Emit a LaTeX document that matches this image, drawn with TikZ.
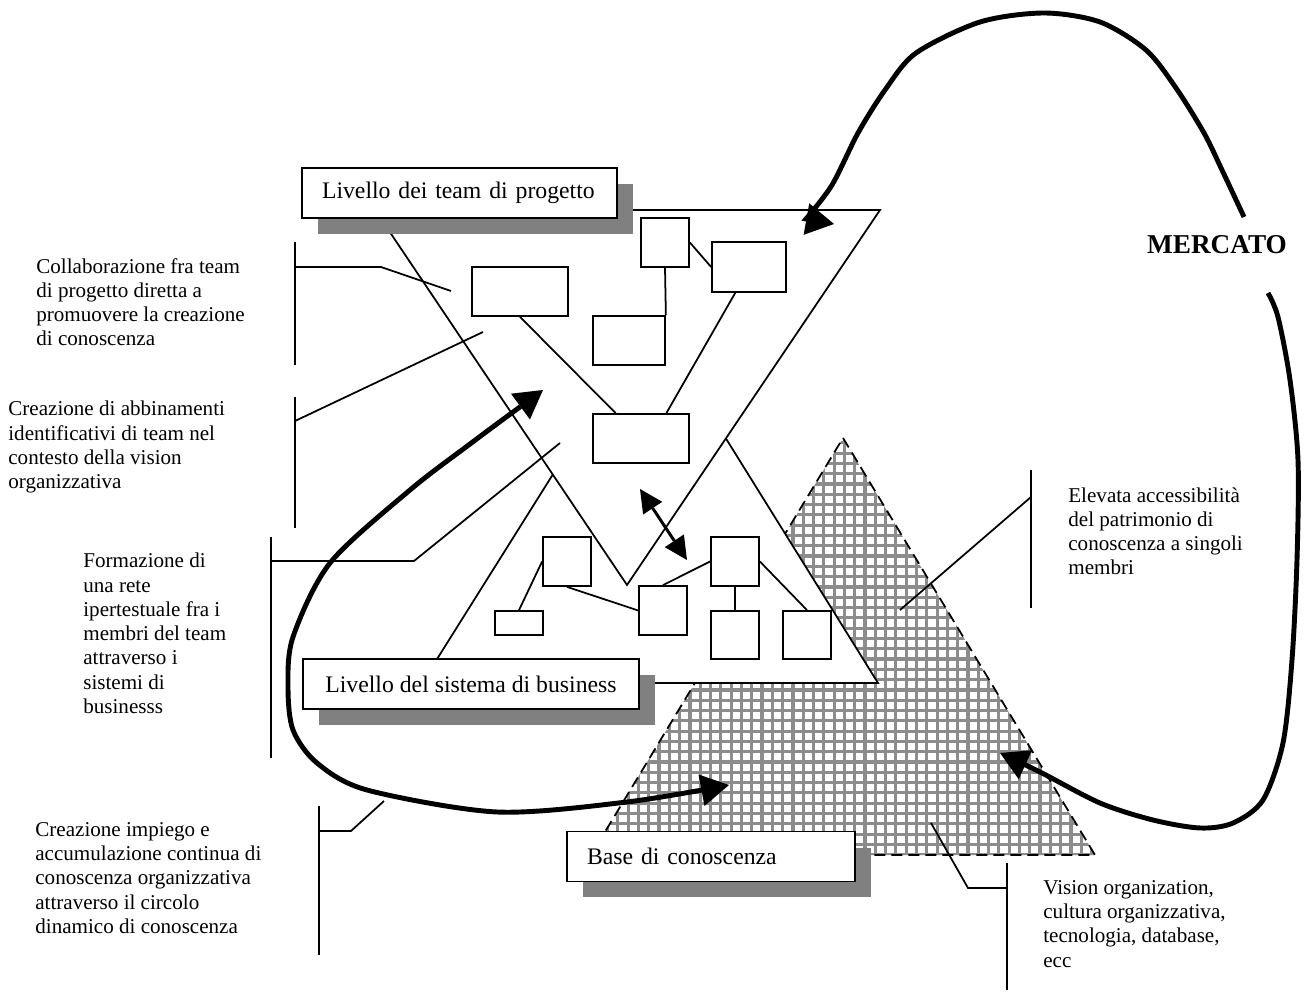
\documentclass[tikz,border=0pt]{standalone}
\usepackage{fontspec}
\setmainfont{Liberation Serif}
\usepackage{tikz}
\usetikzlibrary{arrows.meta, shadows}
\definecolor{ShadowGrey}{rgb}{0.5, 0.5, 0.5}
\definecolor{HatchGrey}{rgb}{0.55, 0.55, 0.55}
\tikzstyle{levelbox} = [rectangle, draw=black, line width=1pt, fill=white, inner xsep=0.4cm, inner ysep=0pt, minimum height=1cm, align=left, font=\fontsize{13.5pt}{15pt}\selectfont, drop shadow={shadow xshift=0.32cm, shadow yshift=-0.32cm, fill=ShadowGrey, opacity=1}]
\tikzstyle{teambox} = [rectangle, draw=black, line width=1pt, fill=white, inner sep=0pt]
\tikzstyle{layer} = [draw=black, line width=1pt, fill=white]
\tikzstyle{leader} = [line width=1pt]
\tikzstyle{notetext} = [anchor=north west, inner sep=0pt, align=left]
\tikzstyle{bigline} = [line width=2.8pt]
\tikzstyle{bigarrow} = [bigline, {Triangle[length=0.56cm, width=0.64cm, line width=0pt]}-{Triangle[length=0.56cm, width=0.64cm, line width=0pt]}]
\tikzstyle{bighead} = [bigline, -{Triangle[length=0.56cm, width=0.64cm, line width=0pt]}]
\tikzstyle{midarrow} = [line width=1.7pt, {Triangle[length=0.46cm, width=0.46cm, line width=0pt]}-{Triangle[length=0.46cm, width=0.46cm, line width=0pt]}]
\tikzset{boxdim/.style 2 args={minimum width=#1, minimum height=#2}}

\begin{document}
\begin{tikzpicture}[x=0.02cm, y=-0.02cm, every node/.style={font=\fontsize{12pt}{13.8pt}\selectfont}]
  \useasboundingbox (0,0) rectangle (1309,996);

  \coordinate (kbTop) at (843,438);
  \coordinate (kbRight) at (1095,855);
  \coordinate (kbLeft) at (591,855);
  \begin{scope}
    \clip (kbTop) -- (kbRight) -- (kbLeft) -- cycle;
    \fill[white] (kbTop) -- (kbRight) -- (kbLeft) -- cycle;
    \draw[HatchGrey, line width=1.8pt, step=0.206cm] (580,860) grid (1100,430);
  \end{scope}
  \draw[line width=1pt, dash pattern=on 0.22cm off 0.12cm] (kbTop) -- (kbRight) -- (kbLeft) -- cycle;

  \coordinate (busLeft) at (422,683);
  \coordinate (busTop) at (651,318);
  \coordinate (busRight) at (878,683);
  \draw[layer] (busLeft) -- (busTop) -- (busRight) -- cycle;
  \coordinate (teamLeft) at (375,210);
  \coordinate (teamRight) at (880,210);
  \coordinate (teamBottom) at (627,585);
  \draw[layer] (teamLeft) -- (teamRight) -- (teamBottom) -- cycle;

  \coordinate (collabTop) at (295,242);
  \coordinate (collabBot) at (295,365);
  \coordinate (collabFoot) at (295,267);
  \coordinate (collabKnee) at (381,267);
  \coordinate (collabEnd) at (451,291);
  \coordinate (abbinTop) at (295,397);
  \coordinate (abbinBot) at (295,528);
  \coordinate (abbinFoot) at (295,421);
  \coordinate (abbinEnd) at (483,332);
  \coordinate (reteTop) at (271,537);
  \coordinate (reteBot) at (271,758);
  \coordinate (reteFoot) at (271,561);
  \coordinate (reteKnee) at (414,561);
  \coordinate (reteEnd) at (560,443);
  \coordinate (cicloTop) at (319,806);
  \coordinate (cicloBot) at (319,955);
  \coordinate (cicloFoot) at (319,831);
  \coordinate (cicloKnee) at (351,831);
  \coordinate (cicloEnd) at (384,801);
  \coordinate (accessTop) at (1031,470);
  \coordinate (accessBot) at (1031,608);
  \coordinate (accessFoot) at (1031,497);
  \coordinate (accessEnd) at (900,610);
  \coordinate (visionTop) at (1007,863);
  \coordinate (visionBot) at (1007,990);
  \coordinate (visionFoot) at (1007,888);
  \coordinate (visionKnee) at (968,888);
  \coordinate (visionEnd) at (931,823);

  \draw[leader] (collabTop) -- (collabBot);
  \draw[leader] (collabFoot) -- (collabKnee) -- (collabEnd);
  \draw[leader] (abbinTop) -- (abbinBot);
  \draw[leader] (abbinFoot) -- (abbinEnd);
  \draw[leader] (reteTop) -- (reteBot);
  \draw[leader] (reteFoot) -- (reteKnee) -- (reteEnd);
  \draw[leader] (cicloTop) -- (cicloBot);
  \draw[leader] (cicloFoot) -- (cicloKnee) -- (cicloEnd);
  \draw[leader] (accessTop) -- (accessBot);
  \draw[leader] (accessFoot) -- (accessEnd);
  \draw[leader] (visionTop) -- (visionBot);
  \draw[leader] (visionFoot) -- (visionKnee) -- (visionEnd);

  \node (tA) [teambox, boxdim={1.92cm}{0.98cm}] at (520,291.5) {};
  \node (tB1) [teambox, boxdim={0.96cm}{0.98cm}] at (665,242.5) {};
  \node (tB2) [teambox, boxdim={1.48cm}{1cm}] at (749,267) {};
  \node (tC) [teambox, boxdim={1.44cm}{0.98cm}] at (629,340.5) {};
  \node (tD) [teambox, boxdim={1.92cm}{0.98cm}] at (641,438.5) {};
  \node (tE) [teambox, boxdim={0.96cm}{0.98cm}] at (567,561.5) {};
  \node (tF) [teambox, boxdim={0.96cm}{0.48cm}] at (519,623) {};
  \node (tG) [teambox, boxdim={0.96cm}{0.98cm}] at (663,610.5) {};
  \node (tH) [teambox, boxdim={0.96cm}{0.98cm}] at (735,561.5) {};
  \node (tI) [teambox, boxdim={0.96cm}{0.96cm}] at (735,635) {};
  \node (tJ) [teambox, boxdim={0.96cm}{0.96cm}] at (807,635) {};

  \draw[leader] (tB1.east) -- (tB2.west);
  \draw[leader] (tB1.south) -- (tC.north east);
  \draw[leader] (tA.south) -- (tD.135);
  \draw[leader] (tB2.242) -- (tD.45);
  \draw[leader] (tE.west) -- (tF.north);
  \draw[leader] (tE.south) -- (tG.west);
  \draw[leader] (tG.north) -- (tH.west);
  \draw[leader] (tH.south) -- (tI.north);
  \draw[leader] (tH.east) -- (tJ.north);

  \coordinate (swapUp) at (640,489);
  \coordinate (swapDown) at (687,560);
  \draw[midarrow] (swapUp) -- (swapDown);

  \node (teamlevel) [levelbox, text width=5.5cm] at (459.5,193) {Livello dei team di progetto};
  \node (buslevel) [levelbox, minimum width=6.72cm] at (471,684) {Livello del sistema di business};
  \node (kblevel) [levelbox, text width=4.96cm] at (711,856.5) {Base di conoscenza};

  \node (collabtext) [notetext] at (36,258) {Collaborazione fra team\\di progetto diretta a\\promuovere la creazione\\di conoscenza};
  \node (abbintext) [notetext] at (8,401) {Creazione di abbinamenti\\identificativi di team nel\\contesto della vision\\organizzativa};
  \node (retetext) [notetext] at (83,553) {Formazione di\\una rete\\ipertestuale fra i\\membri del team\\attraverso i\\sistemi di\\businesss};
  \node (ciclotext) [notetext] at (35,822) {Creazione impiego e\\accumulazione continua di\\conoscenza organizzativa\\attraverso il circolo\\dinamico di conoscenza};
  \node (accesstext) [notetext] at (1068,487) {Elevata accessibilità\\del patrimonio di\\conoscenza a singoli\\membri};
  \node (visiontext) [notetext] at (1043,880) {Vision organization,\\cultura organizzativa,\\tecnologia, database,\\ecc};
  \node (mercato) at (1217,245) {\fontsize{15.5pt}{17pt}\selectfont\bfseries MERCATO};

  \coordinate (cycTop) at (543,390);
  \coordinate (cycEnd) at (729,785);
  \draw[bigarrow] plot[smooth] coordinates {(cycTop) (470,444) (410,490) (330,563) (293,637) (288,687) (293,730) (317,763) (367,790) (497,812) (627,802) (cycEnd)};

  \coordinate (mkTop) at (1244,217);
  \coordinate (mkTip) at (834,224);
  \coordinate (mkBot) at (1268,293);
  \coordinate (mkHit) at (1000,753);
  \draw[bighead] plot[smooth] coordinates {(mkTop) (1222,170) (1204,133) (1176,88) (1146,50) (1100,22) (1044,13) (980,22) (916,53) (885,90) (858,133) (832,185) (806,219)} -- (mkTip);
  \draw[bighead] plot[smooth] coordinates {(mkBot) (1278,317) (1290,380) (1298,460) (1297,560) (1292,660) (1283,743) (1263,800) (1233,823) (1200,828) (1153,820) (1100,803) (1040,772) (mkHit)};
\end{tikzpicture}
\end{document}
